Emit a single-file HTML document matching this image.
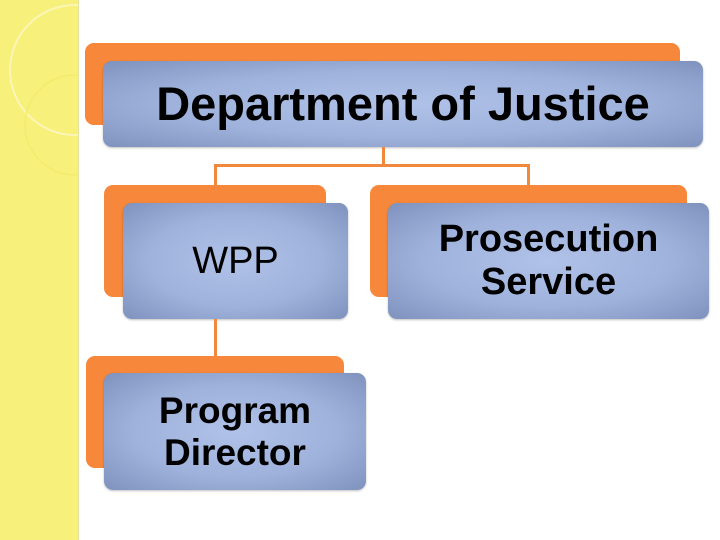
<!DOCTYPE html>
<html><head><style>
body{margin:0;width:720px;height:540px;background:#fff;position:relative;overflow:hidden;font-family:"Liberation Sans",sans-serif}
.strip{position:absolute;left:0;top:0;width:78px;height:540px;background:#f7f07a;border-right:1px solid #e8e2a0}
.o{position:absolute;background:#f7873a;border-radius:9px}
.b{position:absolute;border-radius:9px;background:radial-gradient(ellipse at center,#b0c2e8 0%,#9fb2dc 55%,#7e92bd 100%);display:flex;align-items:center;justify-content:center;text-align:center;font-weight:bold;color:#000;line-height:1.12;box-shadow:0 1px 2px rgba(0,0,0,.25)}
.l{position:absolute;background:#f0883e}
</style></head><body>
<div class="strip">
<svg width="78" height="540" style="position:absolute;left:0;top:0"><circle cx="75" cy="70" r="65" fill="none" stroke="#fbf6b8" stroke-width="2"/><circle cx="75" cy="125" r="50" fill="none" stroke="#f2ea68" stroke-width="1"/></svg>
</div>
<div class="o" style="left:85px;top:43px;width:595px;height:82px"></div>
<div class="b" style="left:103px;top:61px;width:600px;height:86px;font-size:47px">Department of Justice</div>
<div class="l" style="left:382px;top:147px;width:3px;height:19px"></div>
<div class="l" style="left:214px;top:164px;width:316px;height:3px"></div>
<div class="l" style="left:214px;top:164px;width:3px;height:22px"></div>
<div class="l" style="left:527px;top:164px;width:3px;height:22px"></div>
<div class="o" style="left:104px;top:185px;width:222px;height:112px"></div>
<div class="b" style="left:123px;top:203px;width:225px;height:116px;font-size:38px;font-weight:normal">WPP</div>
<div class="o" style="left:370px;top:185px;width:317px;height:112px"></div>
<div class="b" style="left:388px;top:203px;width:321px;height:116px;font-size:38px">Prosecution<br>Service</div>
<div class="l" style="left:214px;top:319px;width:3px;height:38px"></div>
<div class="o" style="left:86px;top:356px;width:258px;height:112px"></div>
<div class="b" style="left:104px;top:373px;width:262px;height:117px;font-size:37px;font-weight:bold">Program<br>Director</div>
</body></html>
